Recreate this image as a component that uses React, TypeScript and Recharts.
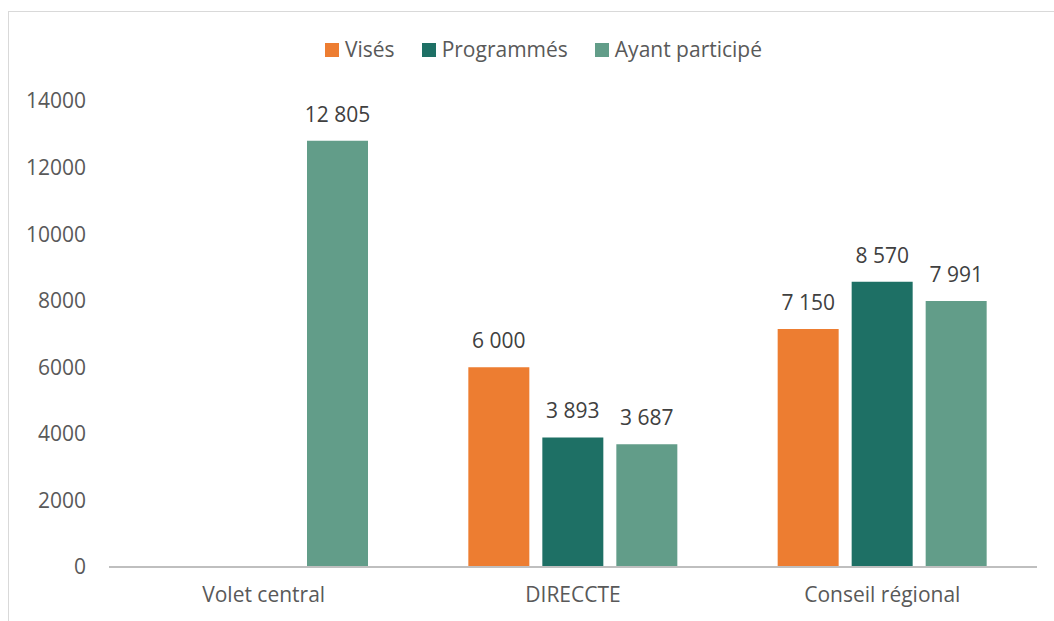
import React from 'react';
import { BarChart, Bar, XAxis, YAxis, Legend, LabelList } from 'recharts';

const categories = ['Volet central', 'DIRECCTE', 'Conseil régional'];
const vises = [null, 6000, 7150];
const programmes = [null, 3893, 8570];
const ayantParticipe = [12805, 3687, 7991];
const yTicks = [0, 2000, 4000, 6000, 8000, 10000, 12000, 14000];

const series = [
  { key: 'vises', name: 'Visés', color: '#ED7D31' },
  { key: 'programmes', name: 'Programmés', color: '#1E7065' },
  { key: 'ayant', name: 'Ayant participé', color: '#629D89' },
];

const data = categories.map((cat, i) => ({
  cat,
  vises: vises[i],
  programmes: programmes[i],
  ayant: ayantParticipe[i],
}));

const FONT = '"Open Sans", sans-serif';
const FS = 21;

// "12 805" style, plain space as thousands separator
const fmt = (v: any) =>
  v === null || v === undefined ? '' : String(v).replace(/\B(?=(\d{3})+(?!\d))/g, ' ');

function LegendContent() {
  return (
    <div style={{ display: 'flex', alignItems: 'center', fontFamily: FONT, fontSize: FS, color: '#595959' }}>
      {series.map((s) => (
        <div key={s.key} style={{ display: 'flex', alignItems: 'center', marginRight: 27 }}>
          <span style={{ display: 'inline-block', width: 14, height: 14, background: s.color, marginRight: 6 }} />
          <span style={{ whiteSpace: 'nowrap', lineHeight: '21px' }}>{s.name}</span>
        </div>
      ))}
    </div>
  );
}

export default function App() {
  return (
    <div style={{ position: 'fixed', left: 0, top: 0, width: 1054, height: 621, background: '#fff', overflow: 'hidden' }}>
      <div
        style={{
          position: 'absolute',
          left: 8,
          top: 11,
          width: 1100,
          height: 700,
          borderLeft: '1px solid #d9d9d9',
          borderTop: '1px solid #d9d9d9',
        }}
      />
      <div style={{ position: 'absolute', left: 0, top: 0 }}>
        <BarChart
          width={1054}
          height={621}
          data={data}
          margin={{ top: 101, right: 17, bottom: 4, left: 0 }}
          barSize={61}
          barGap={13}
        >
          <XAxis
            dataKey="cat"
            height={50}
            tickLine={false}
            tickMargin={14}
            axisLine={{ stroke: '#BFBFBF', strokeWidth: 2 }}
            tick={{ fill: '#595959', fontSize: FS, fontFamily: FONT }}
          />
          <YAxis
            width={109}
            domain={[0, 14000]}
            ticks={yTicks}
            axisLine={false}
            tickLine={false}
            tickMargin={17}
            tick={{ fill: '#595959', fontSize: FS, fontFamily: FONT }}
          />
          <Legend
            verticalAlign="middle"
            layout="horizontal"
            content={<LegendContent />}
            wrapperStyle={{ top: 39, left: 325, width: 600 }}
          />
          {series.map((s) => (
            <Bar key={s.key} dataKey={s.key} name={s.name} fill={s.color} isAnimationActive={false}>
              <LabelList
                dataKey={s.key}
                position="top"
                offset={19}
                formatter={fmt}
                style={{ fill: '#404040', fontSize: FS, fontFamily: FONT }}
              />
            </Bar>
          ))}
        </BarChart>
      </div>
    </div>
  );
}
